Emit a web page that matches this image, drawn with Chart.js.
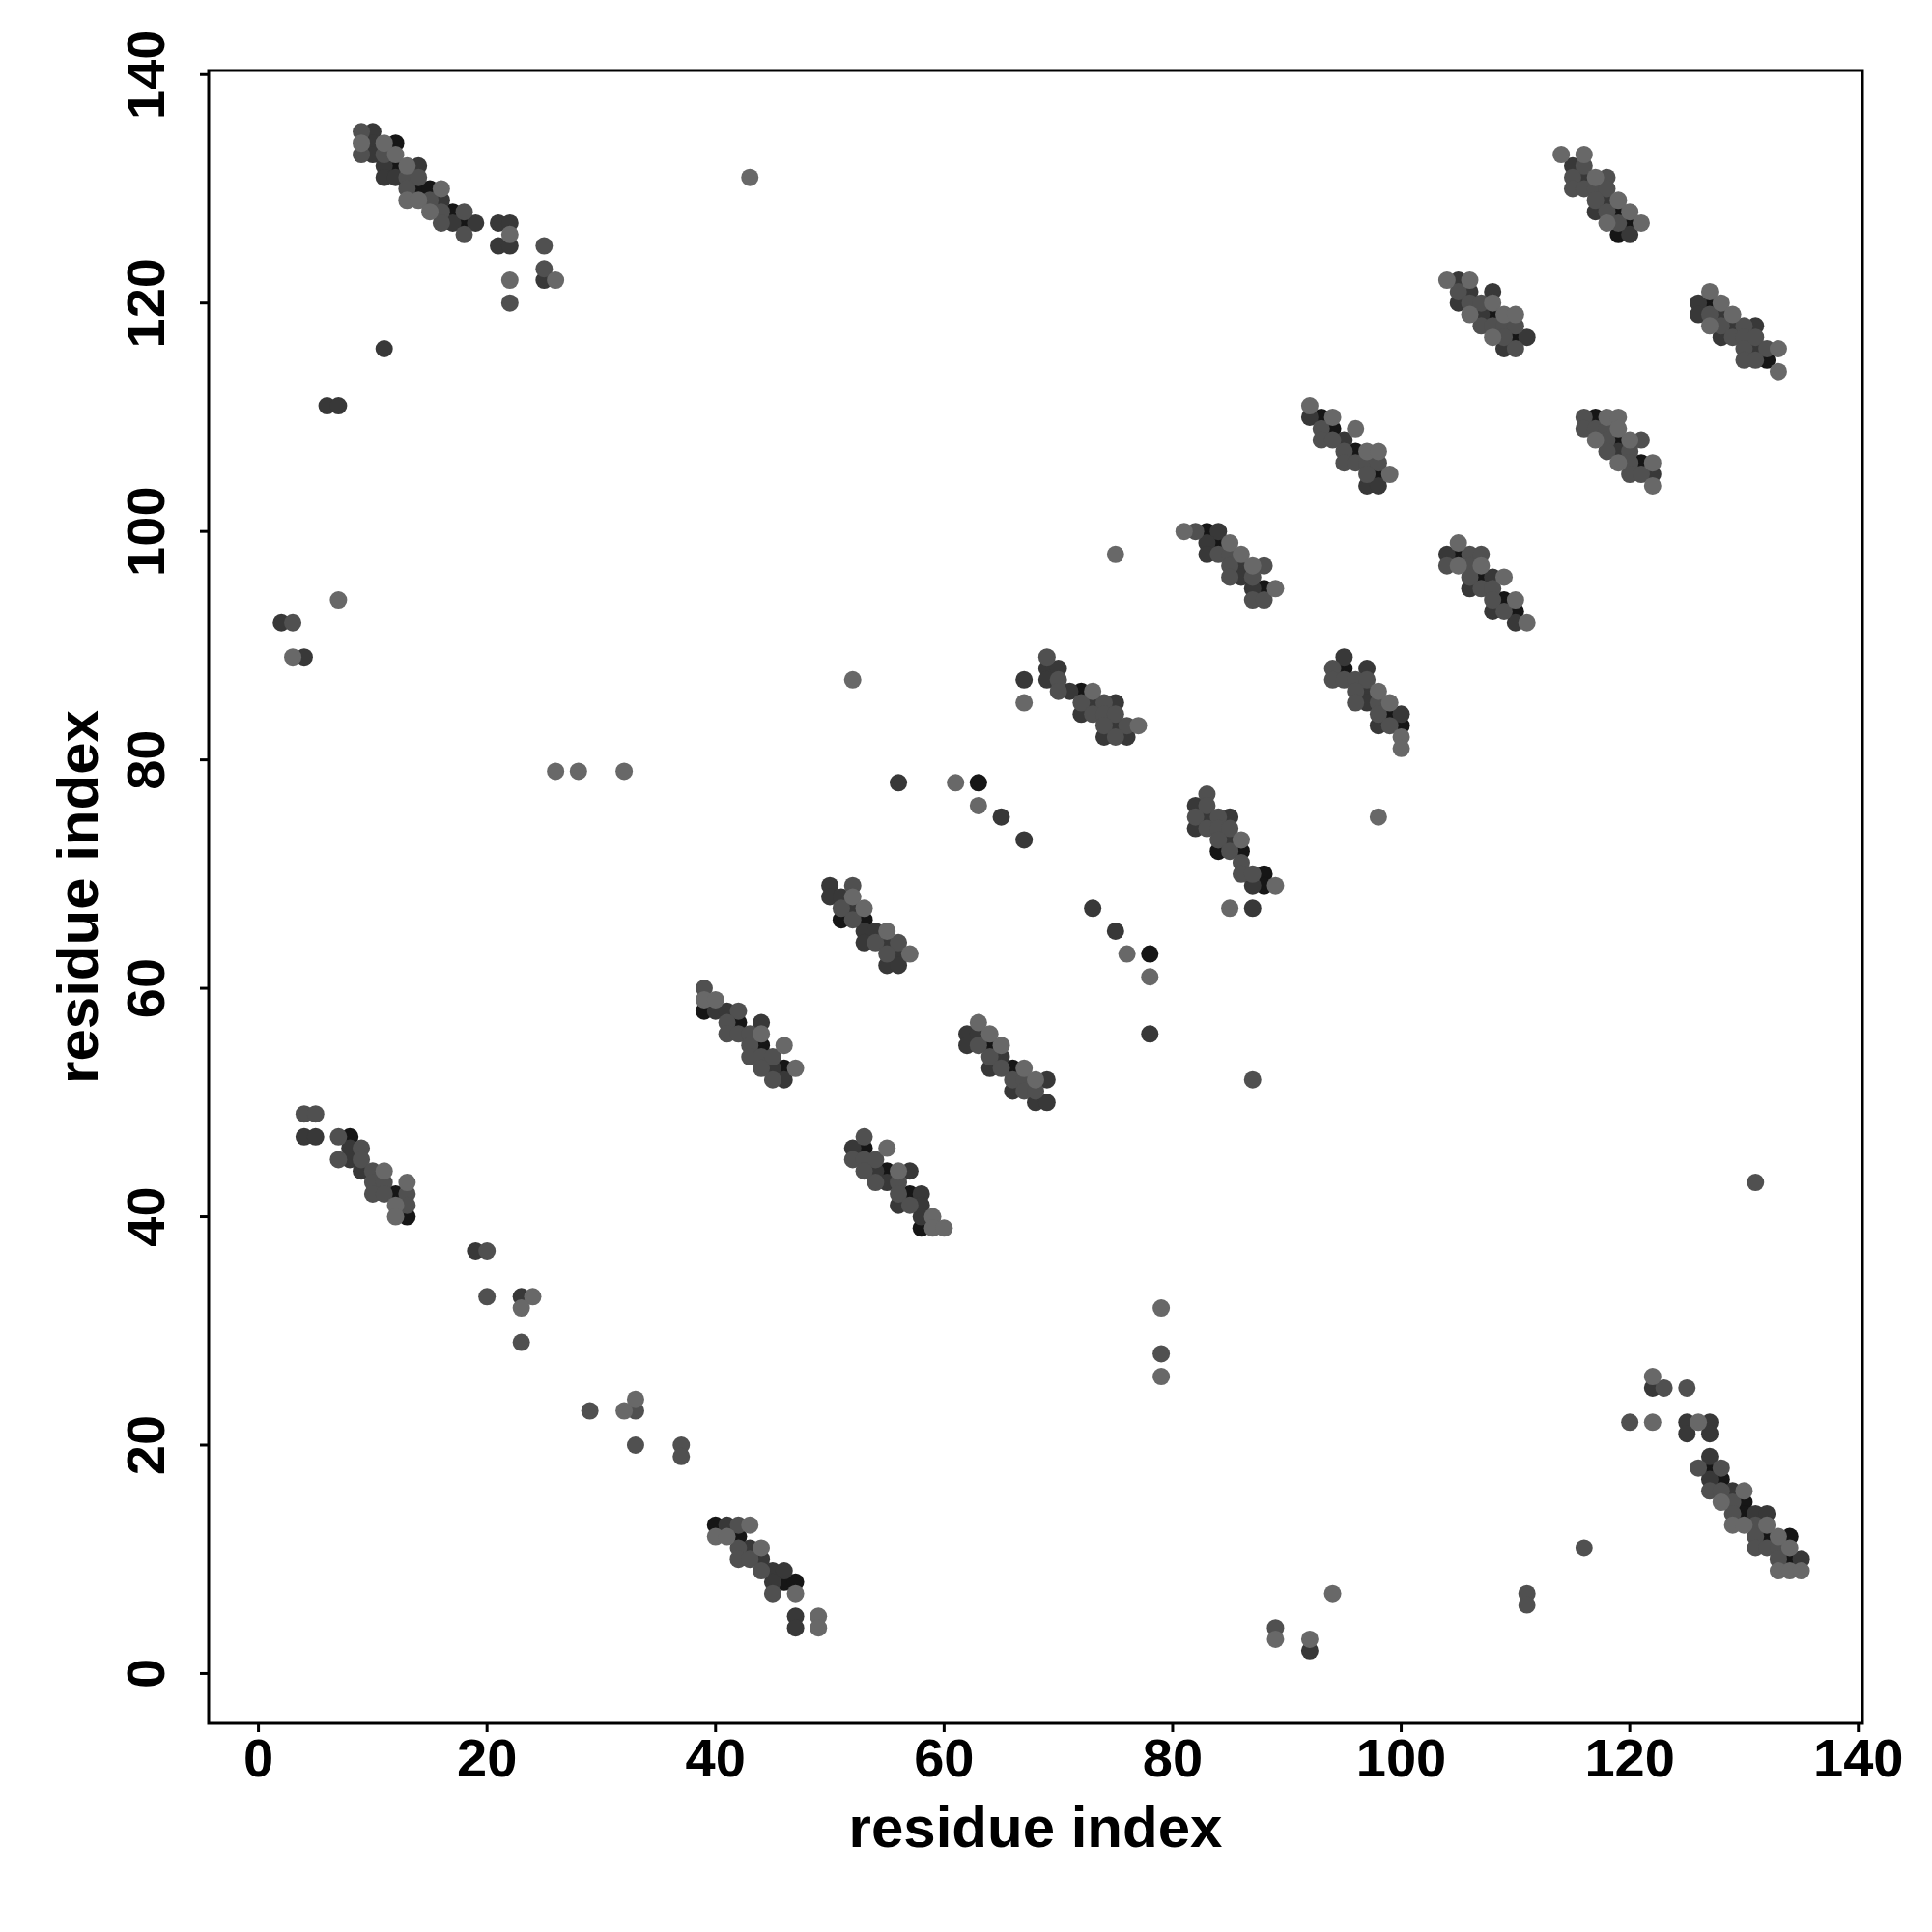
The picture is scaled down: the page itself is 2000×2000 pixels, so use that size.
<!DOCTYPE html>
<html>
<head>
<meta charset="utf-8">
<title>residue contact map</title>
<script src="https://cdn.jsdelivr.net/npm/chart.js@4.4.1/dist/chart.umd.min.js"></script>
<style>
  html, body { margin: 0; padding: 0; background: #fff; }
  canvas { display: block; }
</style>
</head>
<body>
<canvas id="contactChart" width="2000" height="2000"></canvas>
<script>
// contact pairs [residue i, residue j], grouped by contact strength (darker = stronger)
const strongest = [
    [12,134],[12,132],[14,130],[15,130],[17,128],[18,127],
    [8,47],[12,42],[13,40],
    [40,13],[42,12],[46,8],[47,8],
    [39,58],[42,57],[44,55],[46,53],
    [51,66],[53,66],
    [53,46],[55,44],[57,42],[58,39],
    [64,55],[66,53],
    [63,78],[78,63],
    [72,86],
    [83,100],[84,99],[88,95],
    [84,72],[86,72],[88,70],[88,69],
    [93,110],[94,109],[96,107],[98,105],
    [95,88],[99,84],[100,83],
    [108,119],[110,117],
    [105,98],[107,96],[109,94],[110,93],
    [119,128],[120,127],[119,126],
    [117,110],[119,108],[121,106],
    [127,120],[132,115],
    [127,18],[128,17],[130,15],[130,14],[132,12],[134,12],[134,10]
];
const strong = [
    [10,135],[10,134],[10,133],[11,132],[14,132],[11,131],[12,131],[16,129],[17,127],[19,127],
    [21,127],[22,127],[21,125],[22,125],[25,122],
    [11,116],[6,111],[7,111],[2,92],[4,89],
    [4,47],[5,47],[8,46],[8,45],[9,44],
    [19,37],[23,33],
    [41,13],[43,11],[44,10],[45,9],[46,9],[45,8],[47,5],[47,4],
    [40,58],[41,58],[44,57],[45,53],[46,52],
    [50,69],[50,68],[51,68],[52,67],[53,65],[54,65],[53,64],[55,64],[56,63],[55,62],[56,62],
    [52,46],[54,44],[57,44],[55,43],[58,42],[56,41],[58,41],[58,40],
    [62,56],[63,56],[62,55],[65,54],[64,53],[69,52],[66,51],[68,50],[69,50],
    [56,78],[65,75],[67,73],[73,67],[75,65],[78,56],
    [69,88],[70,88],[67,87],[69,87],[71,86],[73,85],[75,85],[72,84],[75,83],[74,82],[76,82],
    [84,100],[83,99],[83,98],[86,97],[86,96],[87,95],
    [82,76],[83,75],[85,75],[82,74],[85,73],[87,69],[87,67],
    [92,2],
    [92,110],[95,108],[97,104],[98,104],
    [95,89],[97,88],[97,86],[97,85],[100,84],[98,83],
    [105,122],[106,121],[108,121],[105,120],[107,119],[111,117],[109,116],
    [104,98],[108,96],[106,95],[108,93],[110,92],
    [115,132],[116,131],[118,129],[117,128],[120,126],
    [119,107],[122,105],
    [126,120],[126,119],[128,119],[129,118],[131,118],[128,117],[131,116],
    [122,25],[125,22],[127,22],[125,21],[127,21],[127,19],[127,17],[129,16],[131,14],[132,14],[135,10]
];
const medium = [
    [9,135],[9,133],[11,133],[13,131],[14,131],[13,130],[15,129],[16,128],[18,128],[16,127],[18,126],
    [25,125],[25,123],[22,120],[3,92],
    [4,49],[5,49],[7,47],[9,46],[7,45],[9,45],[10,44],[10,43],[11,43],[10,42],[11,42],[13,42],[13,41],
    [20,37],[20,33],[23,29],[29,23],[33,23],[33,20],[37,20],[37,19],
    [42,13],[42,11],[42,10],[43,10],[44,9],[45,7],
    [39,60],[42,58],[41,57],[41,56],[42,56],[43,56],[43,55],[43,54],[44,54],[45,54],[44,53],[45,52],
    [52,69],[51,67],[52,66],[54,64],[56,64],[55,63],
    [53,47],[52,45],[53,45],[54,45],[53,44],[54,43],[56,43],[56,42],[57,41],
    [63,55],[64,54],[65,53],[66,52],[67,52],[67,51],[68,51],
    [87,52],
    [69,89],[70,87],[70,86],[72,85],[74,85],[73,84],[74,84],[75,84],[74,83],[76,83],[75,82],
    [82,100],[84,98],[85,98],[85,97],[88,97],[85,96],[87,96],[87,94],[88,94],
    [83,77],[83,76],[82,75],[84,75],[83,74],[84,74],[85,74],[84,73],[85,72],[86,71],[86,70],[87,70],
    [79,28],[89,4],[111,7],[111,6],[116,11],[131,43],
    [93,109],[93,108],[94,108],[95,107],[95,106],[96,106],[97,106],[98,106],[97,105],
    [94,88],[94,87],[95,87],[96,87],[97,87],[96,86],[96,85],[98,85],[98,84],[99,83],
    [105,121],[106,120],[107,120],[107,118],[108,118],[109,118],[110,118],[109,117],[110,116],
    [106,98],[107,98],[104,97],[106,97],[106,96],[107,95],[108,95],[108,94],[109,93],
    [116,132],[115,131],[118,131],[115,130],[116,130],[117,130],[118,130],[117,129],[118,128],[119,127],
    [116,110],[116,109],[117,109],[118,109],[118,108],[121,108],[118,107],[120,107],[120,106],[120,105],[121,105],
    [127,119],[128,118],[130,118],[129,117],[130,117],[131,117],[130,116],[132,116],[130,115],[131,115],
    [123,25],[125,25],[120,22],[126,18],[128,18],[127,16],[128,16],[129,15],[129,14],[131,13],
    [131,12],[131,11],[132,11],[133,11],[133,10]
];
const weak = [
    [9,134],[11,134],[12,133],[13,132],[16,130],[13,129],[14,129],[15,128],
    [22,126],[26,122],[22,122],[43,131],[7,94],[3,89],[26,79],[28,79],[32,79],
    [11,44],[13,43],[12,41],[12,40],
    [24,33],[23,32],[32,23],[33,24],
    [43,13],[40,12],[41,12],[44,11],[47,7],[49,5],[49,4],
    [39,59],[40,59],[44,56],[46,55],[47,53],
    [52,68],[53,67],[55,65],[57,63],
    [55,46],[56,44],[59,40],[59,39],[60,39],
    [63,57],[64,56],[65,55],[67,53],[68,52],
    [52,87],[61,78],[63,76],[76,63],[78,61],
    [67,85],[73,86],[77,83],
    [81,100],[85,99],[86,98],[87,97],[89,95],
    [75,98],[98,75],[86,73],[89,69],[85,67],
    [79,32],[79,26],[89,3],[92,3],[94,7],
    [92,111],[94,110],[96,109],[97,107],[98,107],[99,105],
    [98,86],[99,85],[100,82],[100,81],
    [104,122],[106,122],[108,120],[106,119],[109,119],[110,119],[108,117],
    [105,99],[105,97],[107,97],[109,96],[110,94],[111,92],
    [114,133],[116,133],[117,131],[119,129],[120,128],[118,127],[121,127],
    [118,110],[119,110],[119,109],[117,108],[120,108],[119,106],[122,106],[122,104],
    [127,121],[128,120],[129,119],[127,118],[133,116],[133,114],
    [122,26],[122,22],[126,22],[130,16],[128,15],[129,13],[130,13],[132,13],[133,12],[134,11],
    [133,9],[134,9],[135,9]
];

const xTicks = [0, 20, 40, 60, 80, 100, 120, 140];
const yTicks = [0, 20, 40, 60, 80, 100, 120, 140];
const xTitle = 'residue index';
const yTitle = 'residue index';

const FONT = "'Liberation Sans', Arial, sans-serif";

function toPoints(list) {
    return list.map(([x, y]) => ({ x, y }));
}

function layer(list, color) {
    return {
        data: toPoints(list),
        backgroundColor: color,
        borderWidth: 0,
        pointRadius: 9,
        pointHoverRadius: 9
    };
}

// R-style frame, ticks and labels drawn against the chart's own scales
const frame = {
    id: 'frame',
    afterDraw(chart) {
        const { ctx, chartArea: a, scales } = chart;
        ctx.save();
        ctx.strokeStyle = '#000';
        ctx.lineWidth = 3;
        ctx.strokeRect(a.left, a.top, a.right - a.left, a.bottom - a.top);

        ctx.fillStyle = '#000';
        ctx.font = 'bold 56px ' + FONT;
        ctx.textAlign = 'center';
        ctx.textBaseline = 'alphabetic';

        xTicks.forEach(v => {
            const px = scales.x.getPixelForValue(v);
            ctx.beginPath();
            ctx.moveTo(px, a.bottom);
            ctx.lineTo(px, a.bottom + 9);
            ctx.stroke();
            ctx.fillText(String(v), px, 1839);
        });

        yTicks.forEach(v => {
            const py = scales.y.getPixelForValue(v);
            ctx.beginPath();
            ctx.moveTo(a.left, py);
            ctx.lineTo(a.left - 9, py);
            ctx.stroke();
            ctx.save();
            ctx.translate(170, py);
            ctx.rotate(-Math.PI / 2);
            ctx.fillText(String(v), 0, 0);
            ctx.restore();
        });

        ctx.font = 'bold 60px ' + FONT;
        ctx.fillText(xTitle, (a.left + a.right) / 2, 1912);
        ctx.save();
        ctx.translate(101, (a.top + a.bottom) / 2);
        ctx.rotate(-Math.PI / 2);
        ctx.fillText(yTitle, 0, 0);
        ctx.restore();
        ctx.restore();
    }
};

new Chart(document.getElementById('contactChart').getContext('2d'), {
    type: 'scatter',
    data: {
        datasets: [
            layer(weak, '#686868'),
            layer(medium, '#505050'),
            layer(strong, '#383838'),
            layer(strongest, '#161616')
        ]
    },
    options: {
        responsive: false,
        animation: false,
        events: [],
        devicePixelRatio: 1,
        layout: { padding: { top: 73, right: 72, left: 0, bottom: 0 } },
        plugins: {
            legend: { display: false },
            tooltip: { enabled: false }
        },
        scales: {
            x: {
                type: 'linear',
                min: -4.36,
                max: 140.36,
                grid: { display: false },
                border: { display: false },
                ticks: { display: false },
                afterFit(s) { s.height = 216; }
            },
            y: {
                type: 'linear',
                min: -4.36,
                max: 140.36,
                grid: { display: false },
                border: { display: false },
                ticks: { display: false },
                afterFit(s) { s.width = 216; }
            }
        }
    },
    plugins: [frame]
});
</script>
</body>
</html>
